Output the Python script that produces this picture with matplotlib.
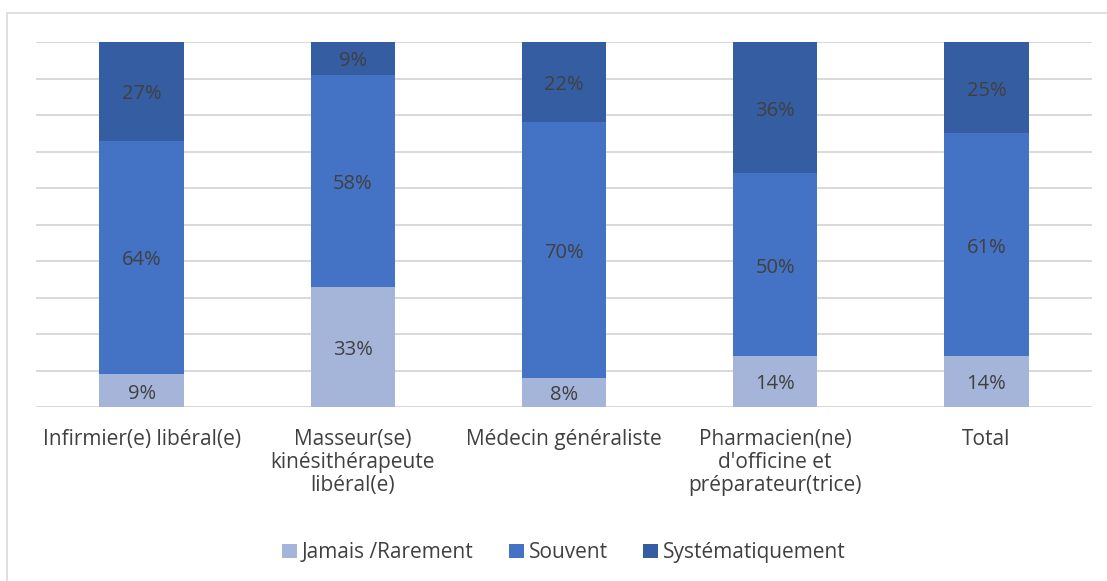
import matplotlib.pyplot as plt
import numpy as np
from matplotlib.patches import Rectangle
from matplotlib.transforms import offset_copy

categories = ["Infirmier(e) libéral(e)", "Masseur(se)\nkinésithérapeute\nlibéral(e)",
              "Médecin généraliste", "Pharmacien(ne)\nd'officine et\npréparateur(trice)", "Total"]
series = ["Jamais /Rarement", "Souvent", "Systématiquement"]
jamais = [9, 33, 8, 14, 14]
souvent = [64, 58, 70, 50, 61]
systematique = [27, 9, 22, 36, 25]
values = [jamais, souvent, systematique]
colors = ["#A5B5DA", "#4472C4", "#355DA1"]

plt.rcParams['font.family'] = ['Open Sans', 'DejaVu Sans']
txt = "#404040"

fig = plt.figure(figsize=(11.07, 5.81), dpi=100)
W, H = 1107, 581
ax = fig.add_axes([36 / W, (H - 407) / H, (1092 - 36) / W, (407 - 42) / H])

# outer chart frame (only top/left visible in the crop)
fig.patches.append(Rectangle((7 / W, -0.01), 1.2, (581 - 13) / H + 0.01, transform=fig.transFigure,
                             fill=False, edgecolor="#D9D9D9", linewidth=1.2))

# labels sit a touch lower than the exact segment middle
lab_tr = offset_copy(ax.transData, fig=fig, x=0, y=-3, units="dots")

x = np.arange(len(categories))
bottom = np.zeros(len(categories))
for name, vals, col in zip(series, values, colors):
    vals = np.array(vals, dtype=float)
    ax.bar(x, vals, 0.4, bottom=bottom, color=col, label=name, zorder=3)
    for xi, b, v in zip(x, bottom, vals):
        ax.text(xi, b + v / 2, f"{int(v)}%", ha="center", va="center", color=txt,
                fontsize=14.5, zorder=4, transform=lab_tr)
    bottom += vals

ax.set_xlim(-0.5, len(categories) - 0.5)
ax.set_ylim(0, 100)
ax.set_yticks(np.arange(0, 101, 10))
ax.yaxis.grid(True, color="#D9D9D9", linewidth=1.4, zorder=0)
ax.tick_params(axis="y", left=False, labelleft=False)
ax.tick_params(axis="x", bottom=False, colors=txt, labelsize=15, pad=12)
ax.set_xticks(x)
ax.set_xticklabels(categories, linespacing=1.15, va="top")
for s in ax.spines.values():
    s.set_visible(False)

ax.legend(loc="lower center", bbox_to_anchor=(0.5, -0.48), ncol=3, frameon=False,
          fontsize=15, labelcolor=txt, handlelength=0.7, handleheight=0.7,
          handletextpad=0.25, columnspacing=1.7)

fig.savefig("out.png", dpi=100)
